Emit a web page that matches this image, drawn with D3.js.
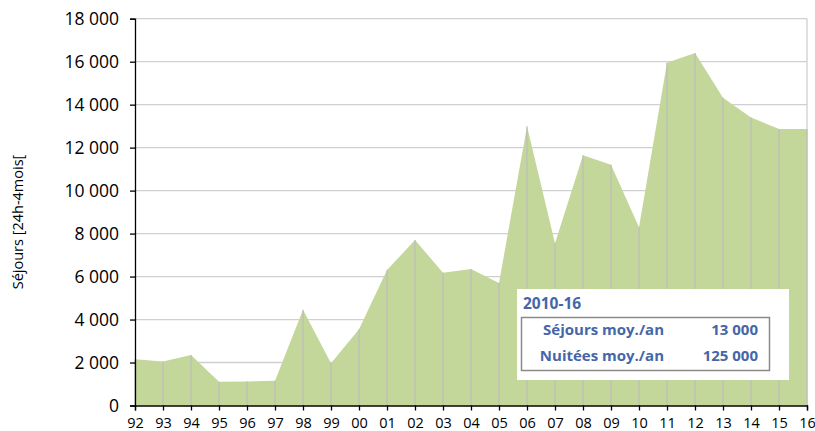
<!DOCTYPE html>
<html>
<head>
<meta charset="utf-8">
<script src="https://cdn.jsdelivr.net/npm/d3@7"></script>
<style>
  html, body { margin: 0; padding: 0; background: #fff; }
  svg text { font-family: "Open Sans", "DejaVu Sans", sans-serif; }
</style>
</head>
<body>
<svg id="chart" width="815" height="431"></svg>
<script>
// Yearly stays (24h to 4 months), 1992–2016
const years = ["92","93","94","95","96","97","98","99","00","01","02","03","04","05",
               "06","07","08","09","10","11","12","13","14","15","16"];
const sejours = [2150, 2050, 2350, 1100, 1120, 1150, 4450, 1970, 3550, 6300, 7700, 6180, 6350, 5700,
                 13000, 7550, 11650, 11200, 8300, 15950, 16400, 14320, 13400, 12870, 12870];
const yTicks = [0, 2000, 4000, 6000, 8000, 10000, 12000, 14000, 16000, 18000];

// Summary box for the 2010-16 period
const summaryTitle = "2010-16";
const summaryLabels = ["Séjours moy./an", "Nuitées moy./an"];
const summaryValues = [13000, 125000];

const svg = d3.select("#chart");
const plotLeft = 135, plotRight = 807, plotTop = 18.7, plotBottom = 405.5;

const x = d3.scalePoint().domain(years).range([plotLeft, plotRight]);
const y = d3.scaleLinear().domain([0, 18000]).range([plotBottom, plotTop]);

const fmt = v => d3.format(",")(v).replace(/,/g, " ");

// horizontal gridlines (behind the area)
svg.append("g").selectAll("line").data(yTicks.filter(d => d > 0)).join("line")
  .attr("x1", plotLeft).attr("x2", plotRight)
  .attr("y1", d => y(d)).attr("y2", d => y(d))
  .attr("stroke", "#d0d0d0").attr("stroke-width", 1.3);

// right border of the plot
svg.append("line").attr("x1", plotRight).attr("x2", plotRight).attr("y1", plotTop).attr("y2", plotBottom)
  .attr("stroke", "#d0d0d0").attr("stroke-width", 1.3);

// area
const area = d3.area().x((d, i) => x(years[i])).y0(y(0)).y1(d => y(d));
svg.append("path").datum(sejours).attr("d", area).attr("fill", "#c4d79b");

// drop lines from each point
svg.append("g").selectAll("line").data(sejours).join("line")
  .attr("x1", (d, i) => x(years[i])).attr("x2", (d, i) => x(years[i]))
  .attr("y1", d => y(d)).attr("y2", y(0))
  .attr("stroke", "#bdbdbd").attr("stroke-width", 1.2);

// y axis
const yAxis = d3.axisLeft(y).tickValues(yTicks).tickFormat(fmt).tickSize(5).tickPadding(11);
const gy = svg.append("g").attr("transform", `translate(${plotLeft},0)`).call(yAxis);
gy.select(".domain").attr("stroke", "#000").attr("stroke-width", 1.3);
gy.selectAll(".tick line").attr("stroke", "#000").attr("stroke-width", 1.3);
gy.selectAll(".tick text").attr("font-size", 17.5).attr("fill", "#000")
  .attr("font-family", "\"Open Sans\", sans-serif");

// x axis
const xAxis = d3.axisBottom(x).tickSize(5).tickPadding(7);
const gx = svg.append("g").attr("transform", `translate(0,${plotBottom})`).call(xAxis);
gx.select(".domain").attr("stroke", "#000").attr("stroke-width", 1.3);
gx.selectAll(".tick line").attr("stroke", "#000").attr("stroke-width", 1.3);
gx.selectAll(".tick text").attr("font-size", 14.5).attr("fill", "#000")
  .attr("font-family", "\"Open Sans\", sans-serif");

// y axis title
svg.append("text")
  .attr("transform", "translate(23,222) rotate(-90)")
  .attr("text-anchor", "middle")
  .attr("font-size", 14.5).attr("fill", "#000")
  .text("Séjours [24h-4mois[");

// summary box
const box = svg.append("g");
box.append("rect").attr("x", 517).attr("y", 289).attr("width", 272).attr("height", 91)
  .attr("fill", "#fff");
box.append("text").attr("x", 523).attr("y", 308.5)
  .attr("font-size", 15.5).attr("font-weight", "bold").attr("fill", "#4566a8")
  .text(summaryTitle);
box.append("rect").attr("x", 521.5).attr("y", 317.5).attr("width", 248).attr("height", 53)
  .attr("fill", "none").attr("stroke", "#8a8a8a").attr("stroke-width", 1.5);
summaryLabels.forEach((lab, i) => {
  const by = 335 + i * 25.5;
  box.append("text").attr("x", 664).attr("y", by).attr("text-anchor", "end")
    .attr("font-size", 15).attr("font-weight", "bold").attr("fill", "#4566a8").text(lab);
  box.append("text").attr("x", 758).attr("y", by).attr("text-anchor", "end")
    .attr("font-size", 15).attr("font-weight", "bold").attr("fill", "#4566a8").text(fmt(summaryValues[i]));
});
</script>
</body>
</html>
